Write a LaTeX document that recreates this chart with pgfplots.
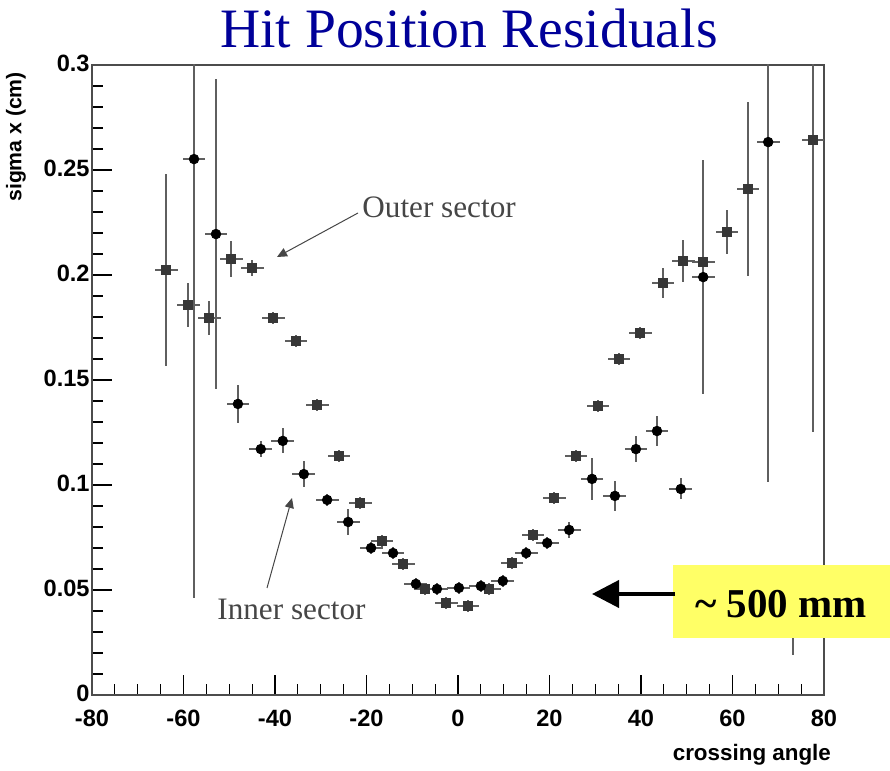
\documentclass[border=0pt]{standalone}
\usepackage{pgfplots}
\pgfplotsset{compat=1.18}
\usepackage{pgfplotstable}
\usepackage{fontspec}
\setmainfont{Liberation Sans}
\newfontfamily\serif{Liberation Serif}
\usetikzlibrary{arrows.meta}

\definecolor{titleblue}{RGB}{0,0,153}
\definecolor{notegray}{RGB}{70,70,70}
\definecolor{boxyellow}{RGB}{255,255,102}
\definecolor{outergray}{RGB}{55,55,55}
\definecolor{bargray}{RGB}{95,95,95}

% outer sector: crossing angle, sigma x, errors
\pgfplotstableread{
x     y      ex   ey
-63.8 0.2024 2.5 0.0455
-59.0 0.1857 2.5 0.0105
-54.4 0.1795 2.5 0.0080
-49.6 0.2076 2.5 0.0085
-45.0 0.2033 2.5 0.0040
-40.4 0.1795 2.5 0.0030
-35.4 0.1686 2.5 0.0030
-30.8 0.1381 2.5 0.0030
-26.0 0.1138 2.5 0.0030
-21.4 0.0914 2.5 0.0030
-16.6 0.0733 2.5 0.0030
-12.0 0.0624 2.5 0.0030
-7.2  0.0505 2.5 0.0030
-2.6  0.0438 2.5 0.0030
2.2   0.0424 2.5 0.0030
6.8   0.0505 2.5 0.0030
11.8  0.0629 2.5 0.0030
16.4  0.0762 2.5 0.0030
21.0  0.0938 2.5 0.0030
25.8  0.1138 2.5 0.0030
30.6  0.1376 2.5 0.0030
35.2  0.1600 2.5 0.0030
39.8  0.1724 2.5 0.0030
44.8  0.1962 2.5 0.0070
49.2  0.2067 2.5 0.0100
53.6  0.2062 2.5 0.0070
58.8  0.2205 2.5 0.0105
63.4  0.2410 2.5 0.0415
77.6  0.2643 2.5 0.1390
}\outersec

% inner sector
\pgfplotstableread{
x     y      ex   ey
-57.7 0.2552 2.5 0.2090
-52.9 0.2195 2.5 0.0740
-48.1 0.1386 2.5 0.0090
-43.1 0.1171 2.5 0.0040
-38.3 0.1210 2.5 0.0060
-33.7 0.1052 2.5 0.0060
-28.6 0.0929 2.5 0.0030
-24.0 0.0824 2.5 0.0060
-19.0 0.0700 2.5 0.0030
-14.2 0.0676 2.5 0.0030
-9.2  0.0529 2.5 0.0030
-4.6  0.0505 2.5 0.0030
0.2   0.0510 2.5 0.0030
5.0   0.0519 2.5 0.0030
9.8   0.0543 2.5 0.0030
14.9  0.0676 2.5 0.0030
19.5  0.0724 2.5 0.0030
24.3  0.0786 2.5 0.0040
29.3  0.1029 2.5 0.0100
34.3  0.0948 2.5 0.0070
38.9  0.1171 2.5 0.0060
43.5  0.1257 2.5 0.0070
48.7  0.0981 2.5 0.0050
53.6  0.1990 2.5 0.0557
67.8  0.2633 2.5 0.1620
73.2  0.0400 2.5 0.0210
}\innersec

\begin{document}
\begin{tikzpicture}
\useasboundingbox (0,0) rectangle (445pt,385.5pt);
\begin{axis}[
  at={(46pt,38pt)}, anchor=south west,
  width=366pt, height=315pt, scale only axis,
  xmin=-80, xmax=80, ymin=0, ymax=0.3,
  xtick={-80,-60,...,80}, minor x tick num=3,
  ytick={0,0.05,0.1,0.15,0.2,0.25,0.3}, minor y tick num=4,
  xtick pos=bottom, ytick pos=left, tick align=inside,
  major tick length=10pt, minor tick length=5.5pt,
  tick style={black, line width=0.6pt},
  axis line style={gray!60!black, line width=0.7pt},
  /pgf/number format/assume math mode=true,
  /pgf/number format/fixed, /pgf/number format/precision=2,
  ticklabel style={font=\bfseries\fontsize{11.8}{13}\selectfont},
  yticklabel style={inner sep=1pt, yshift=1pt},
  xticklabel style={yshift=-4pt},
  xlabel={crossing angle},
  xlabel style={font=\bfseries\fontsize{11.2}{13}\selectfont,
    at={(rel axis cs:1,0)}, anchor=north east, yshift=-21pt, xshift=7pt},
  ylabel={sigma x (cm)},
  ylabel style={font=\bfseries\fontsize{10.6}{12}\selectfont,
    at={(rel axis cs:0,1)}, anchor=south east, yshift=29.5pt},
  error bars/error bar style={bargray, line width=0.75pt},
  error bars/error mark=none,
]
\addplot[only marks, mark=square*, mark size=2.3pt,
  mark options={fill=outergray, draw=outergray},
  error bars/.cd, x dir=both, x explicit, y dir=both, y explicit]
  table[x=x, y=y, x error=ex, y error=ey] {\outersec};
\addplot[only marks, mark=*, mark size=2.4pt,
  mark options={fill=black, draw=black},
  error bars/.cd, x dir=both, x explicit, y dir=both, y explicit]
  table[x=x, y=y, x error=ex, y error=ey] {\innersec};
\end{axis}

% title and notes, laid out on a 0.5pt grid measured from the top left
\begin{scope}[shift={(0pt,385.5pt)}, x=0.5pt, y=-0.5pt]
  \node[anchor=base, inner sep=0, text=titleblue,
    font=\serif\fontsize{27.8}{30}\selectfont] at (469,48) {Hit Position Residuals};
  \node[anchor=base west, inner sep=0, text=notegray,
    font=\serif\fontsize{15.6}{18}\selectfont] at (362,218) {Outer sector};
  \draw[notegray, line width=0.5pt, -{Triangle[length=5pt,width=4.5pt]}]
    (358,213) -- (277,257);
  \node[anchor=base west, inner sep=0, text=notegray,
    font=\serif\fontsize{15.6}{18}\selectfont] at (217,620) {Inner sector};
  \draw[notegray, line width=0.5pt, -{Triangle[length=5pt,width=4.5pt]}]
    (267,588) -- (292,498);
  \fill[boxyellow] (673,565) rectangle (890,638);
  \node[anchor=base, inner sep=0,
    font=\serif\bfseries\fontsize{20.5}{24}\selectfont] at (781,618) {\textasciitilde\ 500 mm};
  \draw[black, line width=2pt, -{Triangle[length=13.5pt,width=13.5pt]}]
    (675,594) -- (592,594);
\end{scope}
\end{tikzpicture}
\end{document}
